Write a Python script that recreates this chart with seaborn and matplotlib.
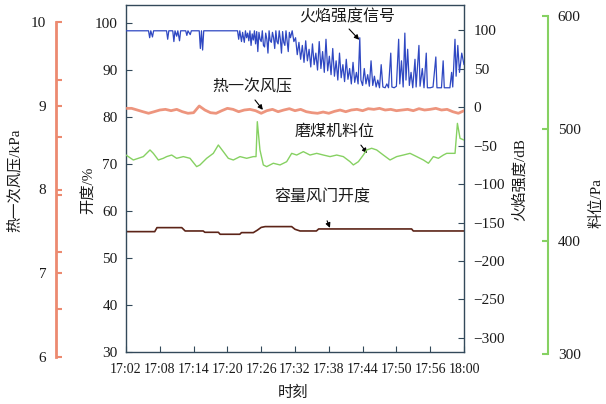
import matplotlib
matplotlib.use("Agg")
import matplotlib.pyplot as plt
import seaborn as sns

sns.set_style("ticks")
plt.rcParams['font.family'] = ['Liberation Serif', 'Noto Sans CJK SC', 'DejaVu Sans']
plt.rcParams['font.size'] = 11

# x axis: minutes since 17:02
tick_min = [0, 6, 12, 18, 24, 30, 36, 42, 48, 54, 60]
tick_lbl = ["17:02", "17:08", "17:14", "17:20", "17:26", "17:32",
            "17:38", "17:44", "17:50", "17:56", "18:00"]

# flame intensity signal (dB)
flame_t = [0, 4.0, 4.2, 4.4, 4.7, 4.9, 7.2, 7.4, 7.6, 8.3, 8.5, 8.7, 9.0, 9.2, 9.5, 9.7,
           10.6, 10.8, 11.0, 11.4, 11.6, 13.0, 13.2, 13.4, 13.6, 13.8, 19.8, 20.0, 20.2,
           20.5, 20.7, 21.0, 21.2, 21.4, 21.6, 21.8, 22.0, 22.2, 22.4, 22.6, 22.8, 23.0,
           23.2, 23.4, 23.6, 23.8, 24.0, 24.2, 24.4, 24.6, 24.8, 25.0, 25.2, 25.4, 25.6,
           25.8, 26.0, 26.2, 26.4, 26.6, 26.8, 27.0, 27.2, 27.4, 27.6, 27.8, 28.0, 28.2,
           28.4, 28.6, 28.8, 29.0, 29.2, 29.5, 29.8, 30.1, 30.4, 30.7, 31.0, 31.3, 31.6,
           31.9, 32.2, 32.5, 32.8, 33.1, 33.4, 33.7, 34.0, 34.3, 34.6, 34.9, 35.2, 35.5,
           35.8, 36.1, 36.4, 36.7, 37.0, 37.3, 37.6, 37.9, 38.2, 38.5, 38.8, 39.1, 39.4,
           39.7, 40.0, 40.3, 40.6, 40.9, 41.2, 41.5, 41.7, 42.0, 42.3, 42.6, 42.9, 43.2,
           43.5, 43.8, 44.1, 44.4, 44.7, 45.0, 45.3, 45.6, 46.0, 46.3, 46.6, 47.0, 47.2,
           47.6, 48.0, 48.4, 48.6, 48.9, 49.2, 49.5, 49.7, 50.0, 50.3, 50.6, 50.9, 51.3,
           51.5, 52.0, 52.2, 52.6, 52.9, 53.3, 53.5, 54.0, 54.5, 55.0, 55.2, 56.0, 56.3,
           56.5, 57.5, 57.8, 58.0, 58.4, 58.6, 58.9, 59.2, 59.6, 60.0]
flame_db = [99, 99, 90, 99, 91, 99, 99, 88, 99, 99, 85, 99, 92, 99, 86, 99,
            99, 93, 99, 94, 99, 99, 76, 99, 74, 99, 99, 88, 99,
            85, 97, 84, 99, 90, 96, 86, 99, 80, 95, 87, 99, 82,
            98, 72, 97, 88, 85, 99, 80, 78, 96, 88, 70, 99, 86,
            84, 97, 90, 76, 99, 85, 82, 99, 88, 70, 98, 84, 80,
            99, 86, 72, 97, 90, 99, 85, 90, 68, 84, 62, 80, 58,
            86, 60, 75, 52, 82, 55, 70, 48, 85, 50, 72, 45, 88,
            47, 66, 42, 76, 40, 60, 35, 70, 38, 55, 33, 62, 36,
            50, 30, 58, 32, 45, 30, 90, 35, 28, 50, 30, 42, 27,
            60, 28, 40, 26, 35, 25, 55, 26, 25, 30, 25, 70, 26,
            25, 27, 88, 30, 60, 26, 96, 35, 75, 28, 45, 25, 62,
            26, 80, 27, 50, 25, 70, 25, 25, 26, 65, 25, 25, 60,
            25, 25, 45, 26, 88, 40, 80, 45, 70, 55]

# hot primary air pressure (kPa), one value per minute
press_t = list(range(61))
press_kpa = [8.969, 8.969, 8.949, 8.929, 8.910, 8.929, 8.949, 8.957, 8.941, 8.957,
             8.929, 8.910, 8.917, 8.997, 8.949, 8.917, 8.910, 8.941, 8.969, 8.957,
             8.929, 8.949, 8.957, 8.941, 8.910, 8.941, 8.957, 8.929, 8.949, 8.965,
             8.941, 8.957, 8.929, 8.917, 8.910, 8.925, 8.910, 8.933, 8.949, 8.929,
             8.949, 8.957, 8.941, 8.965, 8.957, 8.969, 8.949, 8.957, 8.941, 8.949,
             8.957, 8.941, 8.965, 8.949, 8.957, 8.969, 8.949, 8.957, 8.929, 8.910,
             8.941]

# coal mill level (Pa)
level_t = [0, 1.3, 2.19, 3.08, 4.26, 4.85, 5.74, 6.62, 7.22, 8.11, 8.99, 10.18, 11.36,
           12.54, 13.13, 14.32, 15.5, 16.39, 17.28, 18.16, 19.05, 20.24, 21.42, 22.6,
           23.08, 23.31, 23.78, 24.38, 24.97, 26.15, 27.34, 28.52, 29.41, 30.3, 31.48,
           32.66, 33.85, 35.03, 36.22, 37.4, 38.58, 39.77, 40.36, 41.25, 42.13, 42.73,
           43.61, 44.5, 45.68, 46.87, 48.05, 49.23, 50.42, 51.6, 52.79, 53.68, 54.56,
           55.45, 56.34, 56.93, 57.52, 58.41, 58.83, 59.3, 60]
level_pa = [476.6, 472.2, 473.7, 475.2, 481.1, 478.1, 472.2, 473.7, 475.2, 476.6, 473.7,
            475.2, 473.7, 466.3, 467.8, 473.7, 478.1, 485.5, 479.6, 473.7, 472.2, 475.2,
            473.7, 475.2, 475.2, 506.2, 481.1, 467.8, 466.3, 469.3, 467.8, 470.7, 478.1,
            476.6, 479.6, 476.6, 478.1, 476.6, 475.2, 476.6, 475.2, 470.7, 467.8, 470.7,
            476.6, 481.1, 482.6, 481.1, 476.6, 472.2, 475.2, 476.6, 478.1, 475.2, 472.2,
            469.3, 475.2, 473.7, 476.6, 478.1, 478.1, 478.1, 504.7, 491.4, 489.9]

# capacity damper opening (%)
damper_t = [0, 5.1, 5.5, 9.9, 10.5, 13.7, 14.0, 16.4, 16.7, 20.2, 20.5, 22.6, 23.3,
            24.0, 24.7, 29.4, 30.0, 30.9, 33.8, 34.2, 50.7, 51.0, 60]
damper_pct = [55.6, 55.6, 56.45, 56.45, 55.74, 55.74, 55.46, 55.46, 55.04, 55.04, 55.39,
              55.39, 55.9, 56.5, 56.67, 56.67, 56.1, 55.74, 55.74, 56.17, 56.17, 55.74,
              55.74]

W, H = 606, 404
fig = plt.figure(figsize=(W / 100, H / 100), dpi=100)

def box(l, t, r, b):
    return [l / W, (H - b) / H, (r - l) / W, (b - t) / H]

frame_c = '#33495a'
salmon = '#ec8a70'
green = '#86d162'
txt_c = '#1a1a1a'

ax = fig.add_axes(box(126, 5, 464, 352))
ax2 = ax.twinx()
axp = fig.add_axes(box(126, 22, 464, 357))
axl = fig.add_axes(box(126, 16, 464, 354))

sns.lineplot(x=damper_t, y=damper_pct, ax=ax, color='#5c2418', lw=1.2)
sns.lineplot(x=flame_t, y=flame_db, ax=ax2, color='#2f48c2', lw=0.9)
sns.lineplot(x=press_t, y=press_kpa, ax=axp, color=salmon, lw=2.0, alpha=0.9)
sns.lineplot(x=level_t, y=level_pa, ax=axl, color=green, lw=1.0)

for a in (ax, ax2, axp, axl):
    a.set_xlim(0, 60)
    a.set_xlabel("")
    a.set_ylabel("")

ax.set_ylim(30, 103.8)
ax.set_yticks([30, 40, 50, 60, 70, 80, 90, 100])
ax.set_xticks(tick_min)
ax.set_xticklabels(tick_lbl)
ax.tick_params(axis='both', direction='in', length=4, color=frame_c,
               labelcolor=txt_c, labelsize=11)
ax.tick_params(axis='x', pad=8, labelsize=10)
ax.tick_params(axis='y', pad=6)
for s in ax.spines.values():
    s.set_color(frame_c)
    s.set_linewidth(1.0)

ax2.set_ylim(-318.2, 132.5)
ax2.set_yticks([-300, -250, -200, -150, -100, -50, 0, 50, 100])
ax2.set_yticklabels([str(v).replace('-', '\u2212') for v in [-300, -250, -200, -150, -100, -50, 0, 50, 100]])
ax2.tick_params(axis='y', direction='in', length=4, color=frame_c,
                labelcolor=txt_c, labelsize=11, pad=7)
for s in ax2.spines.values():
    s.set_visible(False)

# outer left axis: pressure
axp.set_ylim(6, 10)
axp.patch.set_visible(False)
for k in ('top', 'right', 'bottom'):
    axp.spines[k].set_visible(False)
axp.spines['left'].set_position(('outward', 70 * 0.72))
axp.spines['left'].set_color(salmon)
axp.spines['left'].set_linewidth(2.0)
axp.xaxis.set_visible(False)
axp.set_yticks([6, 7, 8, 9, 10])
axp.set_yticks([6.57, 7.25, 7.94, 8.63, 9.31], minor=True)
axp.tick_params(axis='y', which='major', direction='in', length=4, width=1.5,
                color=salmon, labelcolor=txt_c, labelsize=11, pad=7)
axp.tick_params(axis='y', which='minor', direction='in', length=4, width=1.5,
                color=salmon)

# outer right axis: level
axl.set_ylim(300, 600)
axl.patch.set_visible(False)
for k in ('top', 'left', 'bottom'):
    axl.spines[k].set_visible(False)
axl.yaxis.tick_right()
axl.spines['right'].set_position(('outward', 84 * 0.72))
axl.spines['right'].set_color(green)
axl.spines['right'].set_linewidth(1.5)
axl.xaxis.set_visible(False)
axl.set_yticks([300, 400, 500, 600])
axl.tick_params(axis='y', direction='in', length=4, width=1.5, color=green,
                labelcolor=txt_c, labelsize=11, pad=7)

# axis titles
def ftext(x, y, s, rot=0, size=11):
    fig.text(x / W, 1 - y / H, s, ha='center', va='center', rotation=rot,
             fontsize=size, color=txt_c)

ftext(14, 180, "热一次风压/kPa", 90)
ftext(88, 190, "开度/%", 90)
ftext(520, 180, "火焰强度/dB", 90)
ftext(597, 203, "料位/Pa", 90)
ftext(293, 393, "时刻")

# curve annotations (main axis data coordinates)
notes = [("火焰强度信号", (39.2, 101.1), (39.6, 98.7), (41.4, 96.4)),
         ("热一次风压", (22.5, 86.4), (22.9, 83.6), (24.3, 81.5)),
         ("磨煤机料位", (37.1, 76.8), (41.7, 74.0), (42.8, 72.3)),
         ("容量风门开度", (34.8, 62.8), (35.7, 57.9), (36.2, 56.4))]
for s, pos, tail, head in notes:
    ax.text(pos[0], pos[1], s, ha='center', va='center', fontsize=11.5, color=txt_c,
            zorder=10)
    ax.annotate('', xy=head, xytext=tail,
                arrowprops=dict(arrowstyle='-|>', color='black', lw=0.8,
                                mutation_scale=7, shrinkA=0, shrinkB=0), zorder=10)

fig.savefig("out.png", dpi=100, facecolor='white')
